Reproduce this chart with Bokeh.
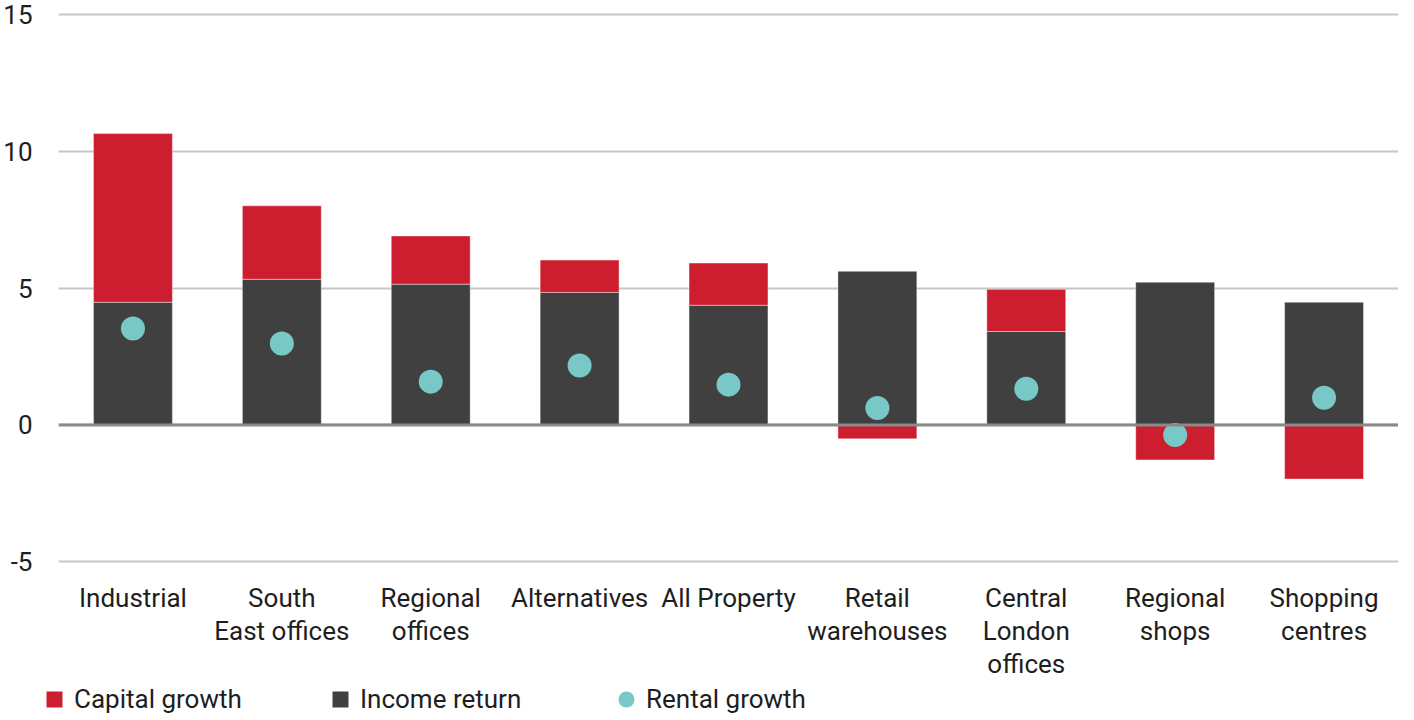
import numpy as np
from bokeh.plotting import figure
from bokeh.layouts import column
from bokeh.models import (ColumnDataSource, FixedTicker, Span, Legend, LegendItem,
                          Range1d, LinearAxis, CustomJSTickFormatter)
from bokeh.embed import file_html
from bokeh.resources import INLINE

categories = ["Industrial", "South East offices", "Regional offices", "Alternatives",
              "All Property", "Retail warehouses", "Central London offices",
              "Regional shops", "Shopping centres"]
label_line1 = ["Industrial", "South", "Regional", "Alternatives", "All Property",
               "Retail", "Central", "Regional", "Shopping"]
label_line2 = ["", "East offices", "offices", "", "", "warehouses", "London", "shops", "centres"]
label_line3 = ["", "", "", "", "", "", "offices", "", ""]
income_return = [4.48, 5.32, 5.14, 4.84, 4.37, 5.61, 3.41, 5.21, 4.48]
capital_growth = [6.16, 2.68, 1.76, 1.18, 1.54, -0.51, 1.54, -1.28, -1.98]
rental_growth = [3.52, 2.97, 1.58, 2.17, 1.47, 0.62, 1.32, -0.37, 0.99]
y_ticks = [-5, 0, 5, 10, 15]

RED = "#cc1e2e"
DARK = "#404040"
TEAL = "#79c8c8"
TXT = "#1e1e1e"
FONT = "Roboto"
FS = "26px"

n = len(categories)
pos = np.arange(n)  # category slot index
inc = np.array(income_return)
cap = np.array(capital_growth)
cap_bottom = np.where(cap >= 0, inc, cap)
cap_top = np.where(cap >= 0, inc + cap, 0.0)

src = ColumnDataSource(dict(cat=categories, pos=pos, inc=inc, cap_b=cap_bottom, cap_t=cap_top,
                            rent=rental_growth, zero=np.zeros(n)))

p = figure(x_range=Range1d(-0.5, n - 0.5), y_range=Range1d(-5.1, 15.1), width=1398, height=681,
           x_axis_type=None, output_backend="svg", toolbar_location=None,
           min_border_left=57, min_border_right=0, min_border_top=11, min_border_bottom=0)
p.outline_line_color = None

r_inc = p.vbar(x="pos", bottom="zero", top="inc", width=0.53, source=src,
               fill_color=DARK, line_color="white", line_alpha=0.4, line_width=1)
r_cap = p.vbar(x="pos", bottom="cap_b", top="cap_t", width=0.53, source=src,
               fill_color=RED, line_color="white", line_alpha=0.4, line_width=1)
p.add_layout(Span(location=0, dimension="width", line_color="#8a8a8a", line_width=3, level="glyph"))
r_rent = p.scatter(x="pos", y="rent", size=24, source=src, fill_color=TEAL, line_color=None)

p.ygrid.grid_line_color = "#c6c6c6"
p.ygrid.grid_line_width = 2
p.yaxis.ticker = FixedTicker(ticks=y_ticks)
p.yaxis.formatter = CustomJSTickFormatter(code="return tick.toFixed(0);")

label_axes = []
for lines, standoff in ((label_line1, 18), (label_line2, 0), (label_line3, 0)):
    ax = LinearAxis(ticker=FixedTicker(ticks=list(range(n))),
                    formatter=CustomJSTickFormatter(args=dict(labels=lines),
                                                    code="const i = Math.round(tick); return labels[i] || '';"),
                    major_label_standoff=standoff)
    p.add_layout(ax, "below")
    label_axes.append(ax)

for ax in label_axes + [p.yaxis[0]]:
    ax.axis_line_color = None
    ax.major_tick_line_color = None
    ax.minor_tick_line_color = None
    ax.major_tick_out = 0
    ax.major_tick_in = 0
    ax.major_label_text_font = FONT
    ax.major_label_text_font_size = FS
    ax.major_label_text_color = TXT
p.yaxis.major_label_standoff = 26

# legend strip
pl = figure(width=1398, height=32, x_range=Range1d(0, 1), y_range=Range1d(0, 1),
            x_axis_type=None, y_axis_type=None,
            output_backend="svg", toolbar_location=None, min_border=0)
pl.frame_align = False
pl.outline_line_color = None
pl.grid.visible = False
lg_cap = pl.scatter(x=[np.nan], y=[np.nan], marker="square", size=14, fill_color=RED, line_color=None)
lg_inc = pl.scatter(x=[np.nan], y=[np.nan], marker="square", size=14, fill_color=DARK, line_color=None)
lg_rent = pl.scatter(x=[np.nan], y=[np.nan], marker="circle", size=14, fill_color=TEAL, line_color=None)
legend = Legend(items=[LegendItem(label="Capital growth", renderers=[lg_cap]),
                       LegendItem(label="Income return", renderers=[lg_inc]),
                       LegendItem(label="Rental growth", renderers=[lg_rent])],
                location=(34, -6), orientation="horizontal",
                glyph_width=40, glyph_height=40, label_standoff=0, label_width=246,
                label_height=30, padding=0, margin=0, spacing=0,
                border_line_color=None, background_fill_alpha=0,
                label_text_font=FONT, label_text_font_size=FS, label_text_color=TXT)
pl.add_layout(legend, "center")

layout = column(p, pl, spacing=0)
open("out.html", "w").write(file_html(layout, INLINE))
